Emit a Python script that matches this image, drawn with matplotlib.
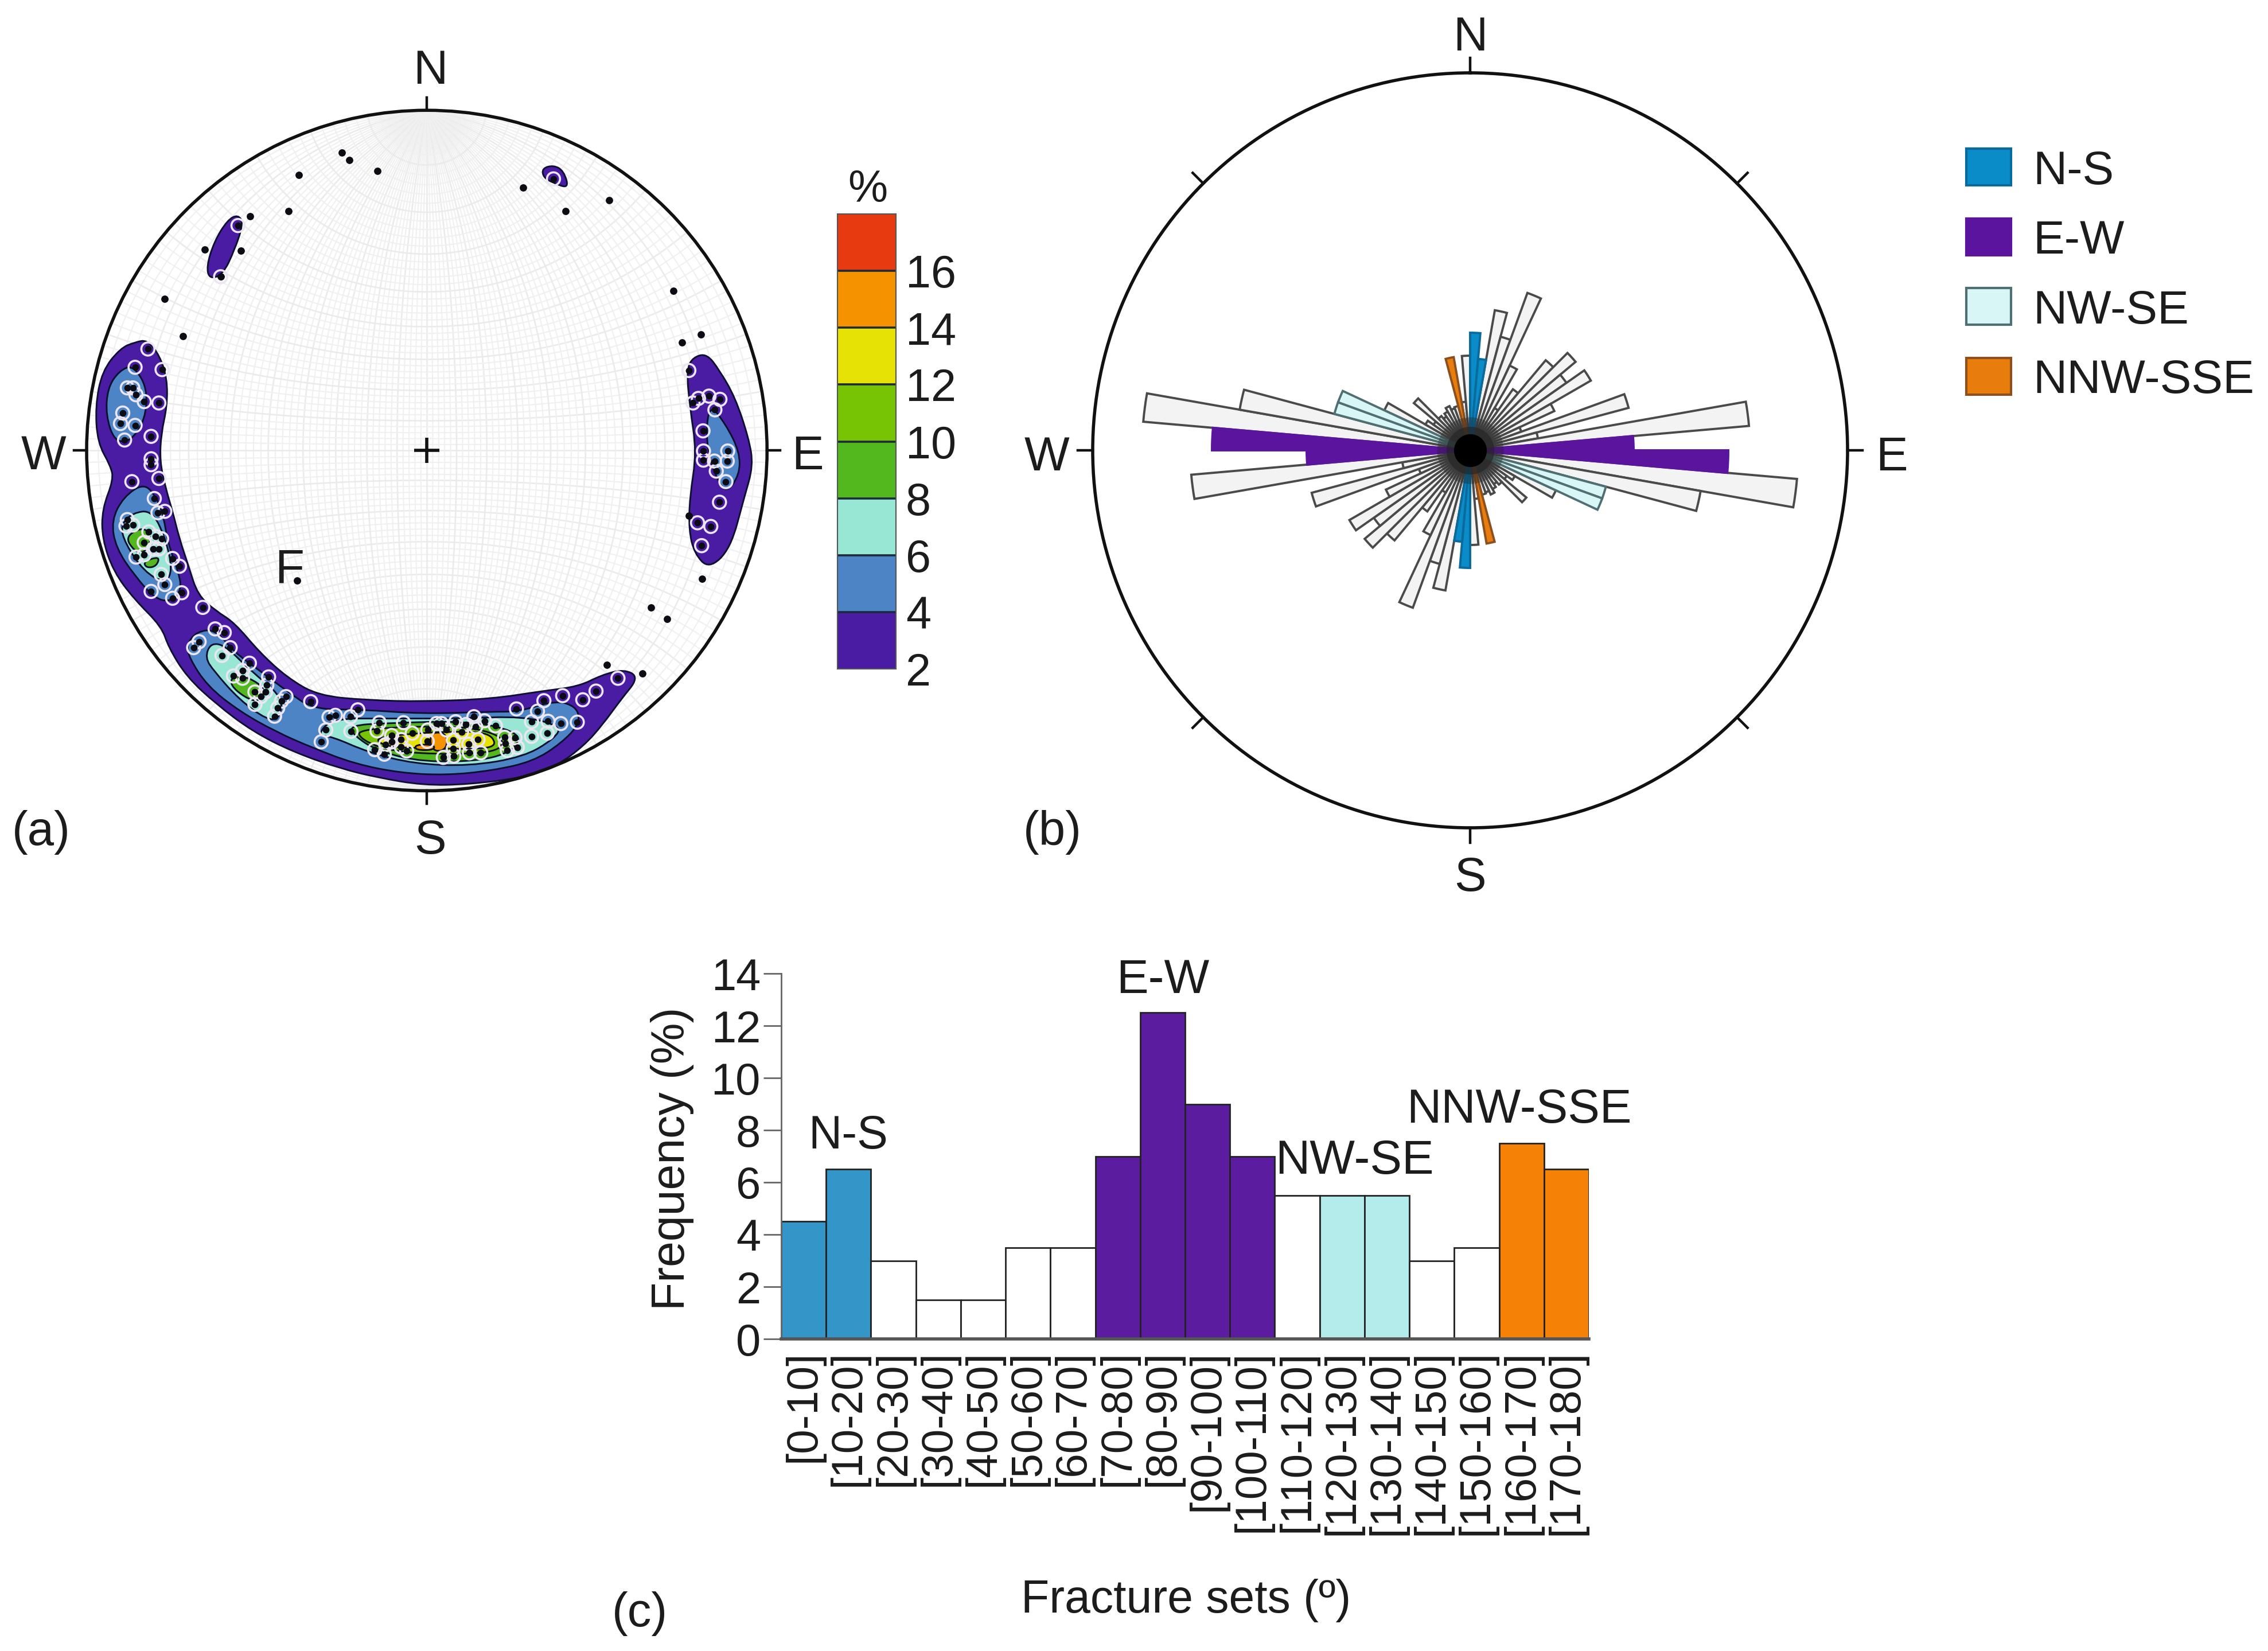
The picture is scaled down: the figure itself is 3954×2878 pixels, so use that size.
import numpy as np
import matplotlib
matplotlib.use("Agg")
import matplotlib.pyplot as plt
from matplotlib.colors import ListedColormap, BoundaryNorm
from matplotlib.patches import Circle, PathPatch, Rectangle
from matplotlib.path import Path

plt.rcParams['font.family'] = ['Liberation Sans', 'DejaVu Sans']

W, H = 3955, 2878

# --- (a) density levels
levels = [2, 4, 6, 8, 10, 12, 14, 16, 18]
level_cols = ['#4a1ca4', '#4c84c6', '#98e6d4', '#52b81e', '#76c404', '#e6e206', '#f59200', '#e83a10']
level_ticks = [2, 4, 6, 8, 10, 12, 14, 16]

# contour outlines, read on the net in a 1568 unit frame
c2_band = [(197,555),(224,590),(240,640),(240,700),(227,760),(224,820),(237,880),(252,930),(267,990),(287,1050),
           (307,1113),(347,1148),(387,1173),(442,1238),(502,1293),(570,1333),(680,1343),(800,1346),(950,1340),
           (1060,1323),(1140,1313),(1190,1288),(1240,1275),(1272,1293),(1232,1342),(1192,1397),(1152,1442),
           (1092,1487),(1020,1512),(900,1527),(800,1529),(700,1512),(618,1492),(518,1457),(428,1412),(348,1352),
           (283,1292),(243,1227),(228,1182),(168,1122),(123,1062),(98,990),(98,925),(123,860),(116,830),
           (88,780),(83,700),(98,623),(138,573),(170,560)]
c2_east = [(1420,585),(1447,620),(1482,680),(1512,770),(1522,830),(1502,900),(1472,1012),(1425,1056),(1393,1022),
           (1381,970),(1383,900),(1398,800),(1383,700),(1376,620),(1390,593)]
c2_nw = [(395,281),(407,300),(387,360),(362,412),(333,422),(326,395),(343,340),(372,293)]
c2_ne = [(1060,180),(1085,173),(1107,185),(1119,224),(1085,212),(1063,200)]
c4_west_a = [(165,610),(197,660),(192,730),(160,777),(125,777),(106,720),(110,660),(135,623)]
c4_west_b = [(190,868),(217,900),(232,940),(242,1000),(264,1060),(272,1100),(250,1127),(215,1122),(170,1072),
             (128,1010),(118,950),(145,898)]
c4_south = [(305,1193),(345,1188),(387,1238),(442,1278),(502,1323),(560,1363),(660,1363),(800,1373),(950,1368),
            (1010,1368),(1090,1343),(1137,1358),(1142,1395),(1102,1437),(1040,1477),(950,1497),(850,1507),
            (750,1502),(650,1482),(558,1447),(478,1412),(398,1367),(328,1312),(288,1250),(283,1220)]
c4_east = [(1425,693),(1462,740),(1492,800),(1492,850),(1462,892),(1438,850),(1418,780)]
c6_west = [(165,933),(207,928),(237,990),(252,1060),(235,1087),(190,1062),(148,1000),(138,960)]
c6_sw = [(335,1218),(367,1223),(422,1278),(492,1335),(487,1382),(460,1387),(398,1342),(343,1280),(323,1250)]
c6_south = [(600,1383),(720,1383),(880,1383),(1020,1378),(1102,1400),(1087,1427),(1020,1467),(900,1487),(780,1482),
            (680,1457),(600,1422),(568,1420)]
c8_west_a = [(148,985),(190,963),(207,990),(190,1022),(168,1017)]
c8_west_b = [(188,1040),(224,1028),(217,1050),(195,1054)]
c8_sw = [(383,1290),(420,1293),(457,1320),(440,1347),(410,1337),(378,1310)]
c8_south = [(640,1398),(720,1393),(900,1388),(1002,1410),(1012,1440),(950,1474),(800,1479),(700,1454),(648,1420)]
c10_south = [(655,1405),(880,1398),(975,1420),(970,1455),(860,1462),(730,1455),(665,1430)]
c12_south = [(690,1425),(790,1415),(850,1412),(940,1412),(962,1440),(930,1450),(800,1448),(720,1445)]
c14_south = [(820,1412),(852,1416),(852,1450),(825,1456),(814,1435)]
c14_strip = [(783,1440),(824,1440),(824,1452),(783,1452)]
contours = [(0, c2_band), (0, c2_east), (0, c2_nw), (0, c2_ne),
            (1, c4_west_a), (1, c4_west_b), (1, c4_south), (1, c4_east),
            (2, c6_west), (2, c6_sw), (2, c6_south),
            (3, c8_west_a), (3, c8_west_b), (3, c8_sw), (3, c8_south),
            (4, c10_south), (5, c12_south), (6, c14_south), (6, c14_strip)]

# poles outside the contours
bare_x = [622,639,528,700,505,422,401,322,357,234,275,1018,1112,1207,1347,1407,1366,1410,1298,1334,1202,1280,524,1381]
bare_y = [145,162,195,186,273,285,360,357,417,465,547,222,273,249,448,543,561,1078,1140,1165,1266,1285,1081,940]
# poles inside the contours (drawn with a pale ring)
ring_west_x = [198,170,229,153,165,172,190,222,143,138,170,147,205,205,205,163,222,212,220,235,153,150,165,200,215,228,
               190,210,222,172,190,252,267,227,235,205,252,272,318,345,365,310,298,378,360,420,405,385,405,462,458,432,
               455,445,500,490,482,475,432]
ring_west_y = [575,615,620,660,660,675,690,693,715,738,742,774,766,815,828,865,858,902,933,930,948,962,960,975,985,990,
               998,1012,1012,1030,1025,1033,1050,1068,1090,1105,1120,1108,1140,1187,1195,1215,1228,1228,1245,1262,1278,
               1290,1295,1292,1310,1325,1325,1335,1335,1345,1360,1378,1352]
ring_south_x = [554,594,608,641,657,587,577,642,704,699,757,776,810,809,840,829,871,851,893,915,911,934,958,884,866,920,
                900,731,752,731,718,694,715,752,764,866,901,926,844,867,978,1001,980,984,1006,1037,1050,1073,1101,1071,
                1037,1137,1004,1064,1105,1149,1178,1226]
ring_south_y = [1346,1380,1376,1379,1364,1408,1434,1411,1392,1410,1392,1415,1408,1433,1394,1394,1390,1408,1396,1401,1379,
                1388,1399,1412,1430,1429,1439,1434,1429,1420,1440,1451,1461,1445,1454,1449,1458,1458,1468,1465,1424,1425,
                1438,1453,1446,1390,1367,1389,1394,1415,1422,1391,1362,1344,1333,1342,1323,1295]
ring_east_x = [1381,1402,1425,1449,1390,1438,1412,1413,1413,1466,1465,1437,1441,1462,1448,1400,1429,1409]
ring_east_y = [622,683,678,685,693,708,754,798,818,798,820,820,842,865,910,955,963,1005]
ring_north_x = [395,357,1085]
ring_north_y = [305,417,203]

# --- (b) rose, length per 5 degree bin from 0 to 175
rose_az = list(range(0, 180, 5))
rose_len = [205,160,248,205,292,163,85,130,205,240,205,243,162,95,286,120,488,285,
            450,572,408,245,245,165,90,78,128,78,72,78,85,78,80,165,85,165]
rose_set = {0: 'ns', 5: 'ns', 85: 'ew', 90: 'ew', 105: 'nwse', 110: 'nwse', 165: 'nnw'}

# --- (c) histogram
bin_labels = ['[0-10]','[10-20]','[20-30]','[30-40]','[40-50]','[50-60]','[60-70]','[70-80]','[80-90]','[90-100]',
              '[100-110]','[110-120]','[120-130]','[130-140]','[140-150]','[150-160]','[160-170]','[170-180]']
freq = [4.5,6.5,3,1.5,1.5,3.5,3.5,7,12.5,9,7,5.5,5.5,5.5,3,3.5,7.5,6.5]
bar_set = ['ns','ns','','','','','','ew','ew','ew','ew','','nwse','nwse','','','nnw','nnw']

set_names = ['N-S', 'E-W', 'NW-SE', 'NNW-SSE']
set_keys = ['ns', 'ew', 'nwse', 'nnw']
rose_fill = {'ns': '#0a8cc8', 'ew': '#5a149e', 'nwse': '#d8f6f6', 'nnw': '#e87c0c', '': '#f3f3f3'}
rose_edge = {'ns': '#0a6a9c', 'ew': '#5a149e', 'nwse': '#4f6f72', 'nnw': '#8a5020', '': '#4a4a4a'}
hist_fill = {'ns': '#3495c9', 'ew': '#5c1ca0', 'nwse': '#b4ecec', 'nnw': '#f58206', '': 'white'}
txt = '#1c1c1c'


def px_axes(x0, y0, x1, y1, **kw):
    return fig.add_axes([x0 / W, 1 - y1 / H, (x1 - x0) / W, (y1 - y0) / H], **kw)


def smooth_path(pts):
    # closed quadratic path through the edge midpoints, rounds the corners
    verts, codes = [], []
    n = len(pts)
    mid = lambda a, b: ((a[0] + b[0]) / 2, (a[1] + b[1]) / 2)
    verts.append(mid(pts[-1], pts[0]))
    codes.append(Path.MOVETO)
    for i in range(n):
        verts += [pts[i], mid(pts[i], pts[(i + 1) % n])]
        codes += [Path.CURVE3, Path.CURVE3]
    return Path(verts, codes)


fig = plt.figure(figsize=(W / 100, H / 100), dpi=100, facecolor='white')

# overlay in picture pixels, for letters and legend
ov = px_axes(0, 0, W, H)
ov.set_xlim(0, W)
ov.set_ylim(H, 0)
ov.axis('off')
ov.set_zorder(5)
ov.patch.set_alpha(0)

# ---------------------------------------------------------------- net (a)
ax = px_axes(100, 150, 1350, 1400)
ax.set_xlim(0, 1568)
ax.set_ylim(1568, 0)
ax.axis('off')
cx, cy, rad = 808, 797, 744

# stereographic grid, 2 degrees
t = np.radians(np.linspace(-90, 90, 181))
for deg in range(-88, 90, 2):
    a = np.radians(deg)
    lw = 1.5 if deg % 10 else 1.9
    col = '#f0f0f0' if deg % 10 else '#ebebeb'
    # meridians
    px = np.cos(t) * np.sin(a)
    py = np.sin(t)
    pz = np.cos(t) * np.cos(a)
    ax.plot(cx + rad * px / (1 + pz), cy - rad * py / (1 + pz), color=col, lw=lw, zorder=1)
    # parallels
    px = np.cos(a) * np.sin(t)
    py = np.sin(a) * np.ones_like(t)
    pz = np.cos(a) * np.cos(t)
    ax.plot(cx + rad * px / (1 + pz), cy - rad * py / (1 + pz), color=col, lw=lw, zorder=1)

rim = Circle((cx, cy), rad, fc='none', ec='#111111', lw=4, zorder=6)
ax.add_patch(rim)
for i, pts in contours:
    p = PathPatch(smooth_path(pts), fc=level_cols[i], ec='#0e1030', lw=2.1, zorder=2 + i * 0.1)
    ax.add_patch(p)
    p.set_clip_path(Circle((cx, cy), rad, transform=ax.transData))

ring_x = ring_west_x + ring_south_x + ring_east_x + ring_north_x
ring_y = ring_west_y + ring_south_y + ring_east_y + ring_north_y
ax.scatter(ring_x, ring_y, s=270, fc='none', ec='#ece6f2', lw=2.6, zorder=4)
ax.scatter(ring_x, ring_y, s=72, c='#0c0c14', lw=0, zorder=5)
ax.scatter(bare_x, bare_y, s=85, c='#0c0c14', lw=0, zorder=5)
ax.plot([cx], [cy], marker='+', ms=32, mew=4, color='#111111', zorder=6)
for dx, dy in [(0, -1), (0, 1), (1, 0), (-1, 0)]:
    ax.plot([cx + dx * rad, cx + dx * (rad + 28)], [cy + dy * rad, cy + dy * (rad + 28)], color='#111111', lw=3.2,
            clip_on=False, zorder=6)

fs = 60
ov.text(750, 124, 'N', fontsize=fs, ha='center', va='center', color=txt)
ov.text(750, 1466, 'S', fontsize=fs, ha='center', va='center', color=txt)
ov.text(76, 796, 'W', fontsize=fs, ha='center', va='center', color=txt)
ov.text(1408, 796, 'E', fontsize=fs, ha='center', va='center', color=txt)
ov.text(505, 994, 'F', fontsize=fs, ha='center', va='center', color=txt)
ov.text(72, 1451, '(a)', fontsize=fs, ha='center', va='center', color=txt)
ov.text(1835, 1451, '(b)', fontsize=fs, ha='center', va='center', color=txt)
ov.text(1115, 2813, '(c)', fontsize=fs, ha='center', va='center', color=txt)

# ---------------------------------------------------------------- colour scale
cb = px_axes(1460, 373, 1562, 1166)
cmap = ListedColormap(level_cols)
norm = BoundaryNorm(levels, cmap.N)
cb.pcolormesh([0, 1], levels, np.array(levels[:-1]).reshape(-1, 1) + 1, cmap=cmap, norm=norm)
cb.hlines(levels[1:-1], 0, 1, color='#1a2a3a', lw=2.6)
cb.set_xticks([])
cb.yaxis.tick_right()
cb.set_yticks(level_ticks, [str(v) for v in level_ticks])
cb.tick_params(axis='y', length=0, pad=12, labelsize=57, labelcolor=txt)
for s in cb.spines.values():
    s.set_color('#555555')
    s.set_linewidth(1.5)
ov.text(1513, 332, '%', fontsize=56, ha='center', va='center', color=txt)

# ---------------------------------------------------------------- rose (b)
rx, ry, rr = 2563, 785, 658
rax = px_axes(rx - rr, ry - rr, rx + rr, ry + rr, projection='polar')
rax.set_theta_zero_location('N')
rax.set_theta_direction(-1)
rax.set_rlim(0, rr)
rax.set_xticks([])
rax.set_yticks([])
rax.grid(False)
rax.spines['polar'].set_linewidth(4)
rax.spines['polar'].set_color('#111111')
for az, ln in zip(rose_az, rose_len):
    key = rose_set.get(az, '')
    z = 3 if key else 2
    for off in (0, 180):
        rax.bar(np.radians(az + off + 2.5), ln, width=np.radians(5), bottom=0, color=rose_fill[key],
                edgecolor=rose_edge[key], lw=2.8, zorder=z)
# the edges run together at the centre
rax.scatter([0], [0], s=7000, c='#222222', alpha=0.35, lw=0, zorder=4)
rax.scatter([0], [0], s=3600, c='#222222', alpha=0.6, lw=0, zorder=4)
rax.scatter([0], [0], s=1700, c='black', lw=0, zorder=5)
for az in range(0, 360, 45):
    th = np.radians(az)
    rax.plot([th, th], [rr, rr + 26], color='#111111', lw=3.2, clip_on=False)
ov.text(2563, 66, 'N', fontsize=fs, ha='center', va='center', color=txt)
ov.text(2563, 1531, 'S', fontsize=fs, ha='center', va='center', color=txt)
ov.text(1825, 798, 'W', fontsize=fs, ha='center', va='center', color=txt)
ov.text(3298, 798, 'E', fontsize=fs, ha='center', va='center', color=txt)

# legend
for i, (name, key) in enumerate(zip(set_names, set_keys)):
    yc = 291 + i * 121.5
    ov.add_patch(Rectangle((3428, yc - 32), 78, 64, fc=rose_fill[key], ec=rose_edge[key], lw=3))
    ov.text(3544, yc + 9, name, fontsize=59, ha='left', va='center', color=txt)

# ---------------------------------------------------------------- histogram (c)
hax = px_axes(1362, 1697, 2770, 2334)
hpos = np.arange(len(freq)) + 0.5
hax.bar(hpos, freq, width=1, color=[hist_fill[k] for k in bar_set], edgecolor='#222222', lw=2)
hax.set_xlim(0, len(freq))
hax.set_ylim(0, 14)
hax.set_yticks(range(0, 15, 2))
hax.set_xticks(hpos, bin_labels, rotation=90, ha='center', va='top')
hax.tick_params(axis='y', length=22, width=2, color='#666666', pad=4, labelsize=56, labelcolor=txt)
hax.tick_params(axis='x', length=0, pad=14, labelsize=55, labelcolor=txt)
for s in ('top', 'right'):
    hax.spines[s].set_visible(False)
hax.spines['left'].set_linewidth(2)
hax.spines['left'].set_color('#666666')
hax.spines['bottom'].set_linewidth(4)
hax.spines['bottom'].set_color('#555555')
ov.text(1172, 2020, 'Frequency (%)', fontsize=58, rotation=90, ha='center', va='center', color=txt)
ov.text(2068, 2790, 'Fracture sets (\u00ba)', fontsize=58, ha='center', va='center', color=txt)
ov.text(1479, 1981, 'N-S', fontsize=58, ha='center', va='center', color=txt)
ov.text(2027, 1709, 'E-W', fontsize=60, ha='center', va='center', color=txt)
ov.text(2361, 2024, 'NW-SE', fontsize=60, ha='center', va='center', color=txt)
ov.text(2648, 1935, 'NNW-SSE', fontsize=60, ha='center', va='center', color=txt)

fig.savefig('out.png', dpi=100)
